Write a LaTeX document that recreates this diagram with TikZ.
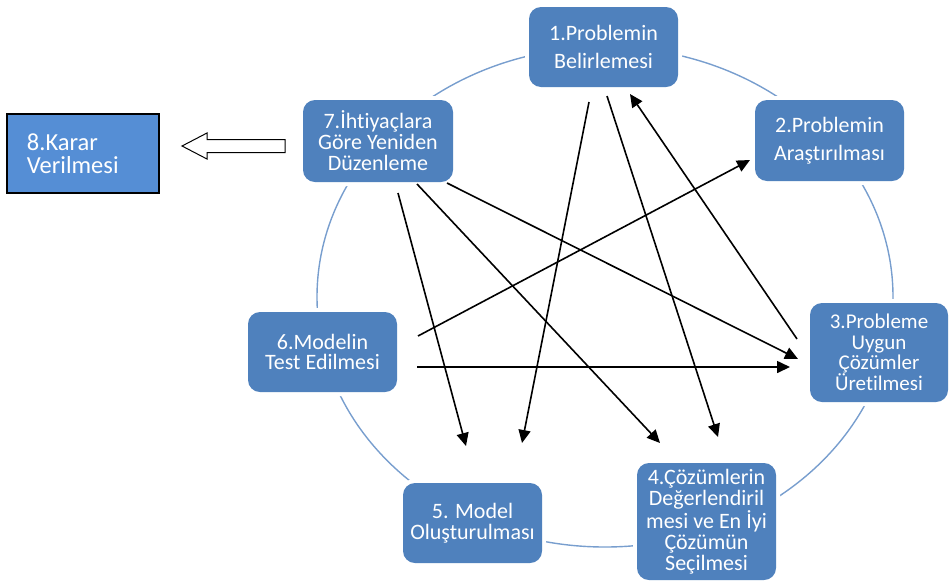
\documentclass[tikz,border=0pt]{standalone}
\usepackage{fontspec}
\setmainfont{Carlito}[Ligatures=NoCommon]
\usetikzlibrary{arrows.meta}
\definecolor{boxblue}{RGB}{79,129,189}
\definecolor{kararblue}{RGB}{85,142,213}
\definecolor{ringblue}{RGB}{120,158,206}

\begin{document}
\begin{tikzpicture}[x=1pt,y=-1pt,
  stepbox/.style={rectangle, rounded corners=12pt, fill=boxblue, text=white,
    align=center, inner sep=0pt,
    preaction={draw=white, line width=8pt}},
  fs/.style={font=\fontsize{22}{#1}\selectfont},
  link/.style={draw=black, line width=1.6pt, -{Triangle[length=13pt,width=12pt]}},
  fatarrow/.style={draw=black, line width=1pt, fill=white, line join=miter},
]
\useasboundingbox (0,0) rectangle (952,582);

% ring joining the steps
\draw[ringblue, line width=1.4pt] (605,297) ellipse [x radius=288, y radius=250];

% steps of the cycle
\node[stepbox, fs=28, minimum width=149, minimum height=80] (n1) at (603.5,47)
  {1.Problemin\\Belirlemesi};
\node[stepbox, fs=28, minimum width=149, minimum height=81] (n2) at (829.5,140.5)
  {2.Problemin\\Araştırılması};
\node[stepbox, font=\fontsize{21}{20.5}\selectfont, minimum width=138,
  minimum height=99] (n3) at (879,352.5)
  {3.Probleme\\Uygun\\Çözümler\\Üretilmesi};
\node[stepbox, fs=21, minimum width=139, minimum height=117] (n4) at (706.5,521.5)
  {4.Çözümlerin\\Değerlendiril\\mesi ve En İyi\\Çözümün\\Seçilmesi};
\node[stepbox, fs=21, minimum width=139, minimum height=80] (n5) at (472.5,523)
  {5. Model\\Oluşturulması};
\node[stepbox, fs=20, minimum width=149, minimum height=80] (n6) at (322.5,352)
  {6.Modelin\\Test Edilmesi};
\node[stepbox, fs=21, minimum width=150, minimum height=82] (n7) at (378,141)
  {7.İhtiyaçlara\\Göre Yeniden\\Düzenleme};

% final decision box
\node[rectangle, fill=kararblue, draw=black, line width=1.6pt, text=white,
  font=\fontsize{24.5}{23}\selectfont, align=left, text width=112,
  inner xsep=20, inner ysep=0, minimum height=79] (n8) at (83,153.5)
  {8.Karar\\Verilmesi};

% hollow arrow from step 7 to the decision
\coordinate (fa) at (182,146);
\draw[fatarrow] (fa) -- ++(25,-13) -- ++(0,6.5) -- ++(78,0) -- ++(0,13)
  -- ++(-78,0) -- ++(0,6.5) -- cycle;

% arrow end points
\coordinate (a1s) at (398,193);  \coordinate (a1e) at (466,446);
\coordinate (a2s) at (417,184);  \coordinate (a2e) at (660,443);
\coordinate (a3s) at (447,183);  \coordinate (a3e) at (798,359);
\coordinate (a4s) at (589,102);  \coordinate (a4e) at (522,443);
\coordinate (a5s) at (607,96);   \coordinate (a5e) at (718,437);
\coordinate (a6s) at (797,339);  \coordinate (a6e) at (630,94);
\coordinate (a7s) at (418,336);  \coordinate (a7e) at (750,160);
\coordinate (a8s) at (417,367);  \coordinate (a8e) at (790,367);

\draw[link] (a1s) -- (a1e);
\draw[link] (a2s) -- (a2e);
\draw[link] (a3s) -- (a3e);
\draw[link] (a4s) -- (a4e);
\draw[link] (a5s) -- (a5e);
\draw[link] (a6s) -- (a6e);
\draw[link] (a7s) -- (a7e);
\draw[link] (a8s) -- (a8e);
\end{tikzpicture}
\end{document}
